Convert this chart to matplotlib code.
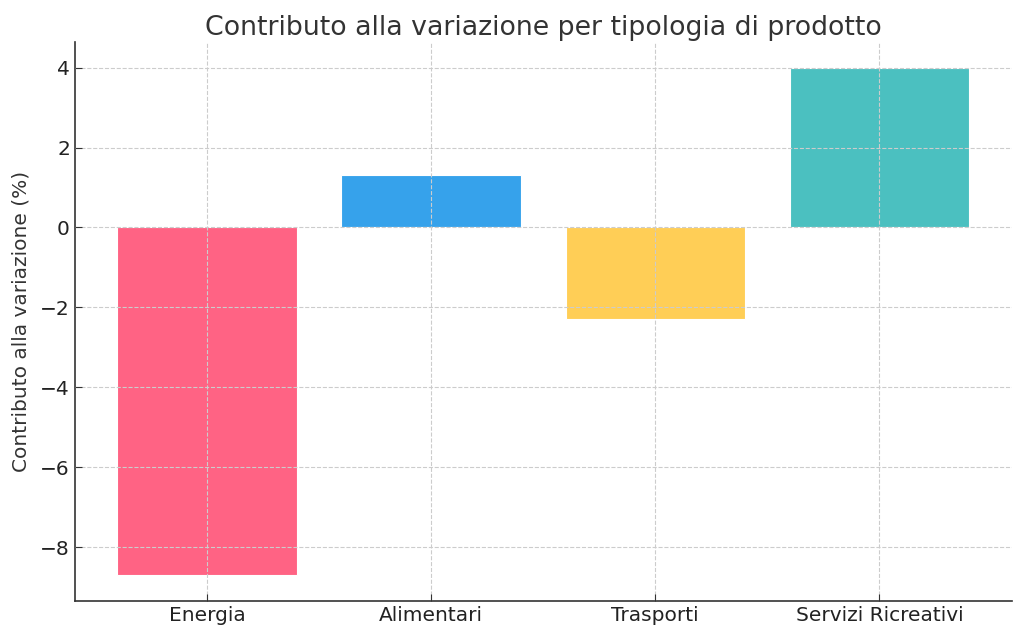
import matplotlib
matplotlib.use("Agg")
import matplotlib.pyplot as plt

# dati
categorie = ["Energia", "Alimentari", "Trasporti", "Servizi Ricreativi"]
contributi = [-8.7, 1.3, -2.3, 4.0]
colori = ["#FF6384", "#36A2EB", "#FFCE56", "#4BC0C0"]

TESTO = "#333333"

fig, ax = plt.subplots(figsize=(10.24, 6.39), dpi=100)
ax.bar(categorie, contributi, color=colori, edgecolor="white", linewidth=0.8, zorder=1)

ax.set_title("Contributo alla variazione per tipologia di prodotto", fontsize=19.3,
             color=TESTO, pad=5)
ax.set_ylabel("Contributo alla variazione (%)", fontsize=14.5, color=TESTO, labelpad=7)
ax.tick_params(axis="both", direction="in", labelsize=14.5, colors=TESTO, length=5)
ax.tick_params(axis="both", labelcolor="#222222")
ax.grid(True, linestyle="--", color="#cccccc", linewidth=0.8, zorder=2)
ax.set_axisbelow(False)

for s in ["top", "right"]:
    ax.spines[s].set_visible(False)
for s in ["left", "bottom"]:
    ax.spines[s].set_color(TESTO)
    ax.spines[s].set_linewidth(1.2)

plt.subplots_adjust(left=0.073, right=0.988, top=0.934, bottom=0.06)
plt.savefig("out.png", dpi=100)
